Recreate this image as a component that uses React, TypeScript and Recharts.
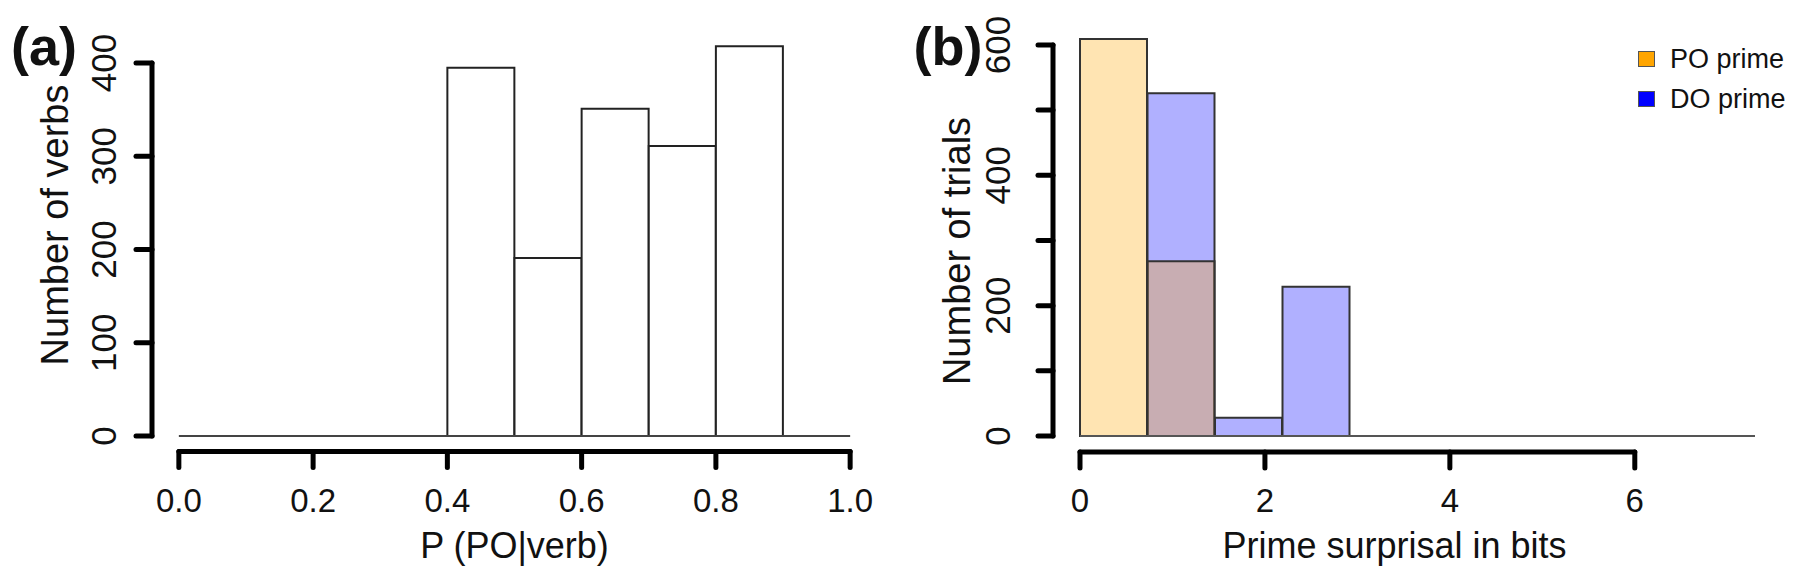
import React from 'react';
import { BarChart, Bar, XAxis, YAxis, ReferenceLine, Legend } from 'recharts';

// (a) histogram of P(PO|verb), bins of 0.1
const edgesA = [0, 0.1, 0.2, 0.3, 0.4, 0.5, 0.6, 0.7, 0.8, 0.9, 1.0];
const verbCounts = [0, 0, 0, 0, 395, 191, 351, 311, 418, 0];
const xTicksA = [0, 0.2, 0.4, 0.6, 0.8, 1.0];
const yTicksA = [0, 100, 200, 300, 400];

// (b) prime surprisal, PO vs DO primes
const edgesB = [0, 0.73, 1.46, 2.19, 2.92, 3.65, 4.38, 5.11, 5.84, 6.57, 7.3];
const poCounts = [609, 268, 0, 0, 0, 0, 0, 0, 0, 0];
const doCounts = [0, 526, 28, 229, 0, 0, 0, 0, 0, 0];
const xTicksB = [0, 2, 4, 6];
const yTicksB = [0, 100, 200, 300, 400, 500, 600];
const yLabelsB = [0, 200, 400, 600];

const series = [
  { key: 'po', name: 'PO prime', color: '#FFA500' },
  { key: 'do', name: 'DO prime', color: '#0000FF' },
];

const FONT = '"Liberation Sans", Arial, sans-serif';

// R-style 4% padding around the data range
const pad = (lo: number, hi: number): [number, number] => {
  const d = (hi - lo) * 0.04;
  return [lo - d, hi + d];
};

const mids = (edges: number[]) => edges.slice(1).map((e, i) => (edges[i] + e) / 2);

const dataA = mids(edgesA).map((mid, i) => ({ mid, count: verbCounts[i] }));
const dataB = mids(edgesB).map((mid, i) => ({ mid, po: poCounts[i], do: doCounts[i] }));

const xDomA = pad(edgesA[0], edgesA[edgesA.length - 1]);
const yDomA = pad(0, Math.max(...verbCounts));
const xDomB = pad(edgesB[0], edgesB[edgesB.length - 1]);
const yDomB = pad(0, Math.max(...poCounts, ...doCounts));

const axisStroke = { stroke: '#000', strokeWidth: 5, strokeLinecap: 'round' as const };

const yTick = (labels: number[], off: number) => (props: any) => {
  const { x, y, payload } = props;
  if (!labels.includes(payload.value)) return <g />;
  const cx = x - off;
  return (
    <text x={cx} y={y} transform={`rotate(-90 ${cx} ${y})`} textAnchor="middle"
      dominantBaseline="central" fontSize={35} fontFamily={FONT} fill="#111">
      {payload.value}
    </text>
  );
};

const xTick = (fmt: (v: number) => string) => (props: any) => {
  const { x, y, payload } = props;
  return (
    <text x={x} y={y + 31} textAnchor="middle" dominantBaseline="central"
      fontSize={33} fontFamily={FONT} fill="#111">
      {fmt(payload.value)}
    </text>
  );
};

const xTitle = (text: string, dx: number) => (props: any) => {
  const vb = props.viewBox;
  return (
    <text x={vb.x + vb.width / 2 + dx} y={545} textAnchor="middle" dominantBaseline="central"
      fontSize={36} fontFamily={FONT} fill="#111">
      {text}
    </text>
  );
};

const panelText = (tag: string, tagX: number, title: string, titleX: number, titleY: number) => () => (
  <g>
    <text x={tagX} y={46} textAnchor="middle" dominantBaseline="central" fontSize={54}
      fontWeight="bold" fontFamily={FONT} fill="#111">{tag}</text>
    <text x={titleX} y={titleY} transform={`rotate(-90 ${titleX} ${titleY})`} textAnchor="middle"
      dominantBaseline="central" fontSize={38} fontFamily={FONT} fill="#111">{title}</text>
  </g>
);

const LegendBox = (props: any) => {
  const payload = props.payload || [];
  const items = series.map(s => payload.find((p: any) => p.dataKey === s.key)).filter(Boolean);
  return (
    <div style={{ fontFamily: FONT }}>
      {items.map((p: any) => (
        <div key={p.dataKey} style={{ display: 'flex', alignItems: 'center', height: 40 }}>
          <span style={{ width: 15, height: 14, background: p.color, border: '1.5px solid #555', marginRight: 15 }} />
          <span style={{ fontSize: 27, color: '#111' }}>{p.value}</span>
        </div>
      ))}
    </div>
  );
};

export default function App() {
  return (
    <div style={{ position: 'absolute', left: 0, top: 0, width: 1800, height: 579, background: '#fff' }}>
      {/* (a) */}
      <div style={{ position: 'absolute', left: 0, top: 0 }}>
        <BarChart width={900} height={579} data={dataA} barCategoryGap={0}
          margin={{ top: 30.6, right: 23, bottom: 0, left: 0 }}>
          <XAxis type="number" dataKey="mid" domain={xDomA} ticks={xTicksA} allowDataOverflow
            height={127.4} axisLine={false} tickLine={axisStroke} tickSize={16}
            tick={xTick(v => v.toFixed(1))} label={{ content: xTitle('P (PO|verb)', 0) }} />
          <YAxis type="number" domain={yDomA} ticks={yTicksA} allowDataOverflow width={152}
            axisLine={false} tickLine={axisStroke} tickSize={16} tick={yTick(yTicksA, 30)}
            label={{ content: panelText('(a)', 44, 'Number of verbs', 55, 225) }} />
          <Bar dataKey="count" fill="#fff" stroke="#222" strokeWidth={2} isAnimationActive={false} />
          <ReferenceLine ifOverflow="visible" stroke="#444" strokeWidth={2}
            segment={[{ x: edgesA[0], y: 0 }, { x: edgesA[edgesA.length - 1], y: 0 }]} />
          <ReferenceLine ifOverflow="visible" {...axisStroke}
            segment={[{ x: xTicksA[0], y: yDomA[0] }, { x: xTicksA[xTicksA.length - 1], y: yDomA[0] }]} />
          <ReferenceLine ifOverflow="visible" {...axisStroke}
            segment={[{ x: xDomA[0], y: yTicksA[0] }, { x: xDomA[0], y: yTicksA[yTicksA.length - 1] }]} />
        </BarChart>
      </div>

      {/* (b) */}
      <div style={{ position: 'absolute', left: 900, top: 0 }}>
        <BarChart width={900} height={579} data={dataB} barCategoryGap={0}
          margin={{ top: 23.2, right: 18, bottom: 0, left: 0 }}>
          <XAxis xAxisId="po" type="number" dataKey="mid" domain={xDomB} ticks={xTicksB} allowDataOverflow
            height={127.1} axisLine={false} tickLine={axisStroke} tickSize={16}
            tick={xTick(v => String(v))} label={{ content: xTitle('Prime surprisal in bits', -23) }} />
          <XAxis xAxisId="do" type="number" dataKey="mid" domain={xDomB} allowDataOverflow hide height={0} />
          <YAxis type="number" domain={yDomB} ticks={yTicksB} allowDataOverflow width={153}
            axisLine={false} tickLine={axisStroke} tickSize={15} tick={yTick(yLabelsB, 38)}
            label={{ content: panelText('(b)', 48, 'Number of trials', 57, 251) }} />
          <Bar xAxisId="do" dataKey="do" name="DO prime" fill="#0000FF" fillOpacity={0.31}
            stroke="#333" strokeWidth={2} isAnimationActive={false} />
          <Bar xAxisId="po" dataKey="po" name="PO prime" fill="#FFA500" fillOpacity={0.3}
            stroke="#333" strokeWidth={2} isAnimationActive={false} />
          <ReferenceLine xAxisId="po" ifOverflow="visible" stroke="#555" strokeWidth={2}
            segment={[{ x: edgesB[0], y: 0 }, { x: edgesB[edgesB.length - 1], y: 0 }]} />
          <ReferenceLine xAxisId="po" ifOverflow="visible" {...axisStroke}
            segment={[{ x: xTicksB[0], y: yDomB[0] }, { x: xTicksB[xTicksB.length - 1], y: yDomB[0] }]} />
          <ReferenceLine xAxisId="po" ifOverflow="visible" {...axisStroke}
            segment={[{ x: xDomB[0], y: yTicksB[0] }, { x: xDomB[0], y: yTicksB[yTicksB.length - 1] }]} />
          <Legend layout="vertical" align="center" verticalAlign="middle" content={LegendBox}
            wrapperStyle={{ left: 738, top: 39, width: 170, height: 80 }} />
        </BarChart>
      </div>
    </div>
  );
}
